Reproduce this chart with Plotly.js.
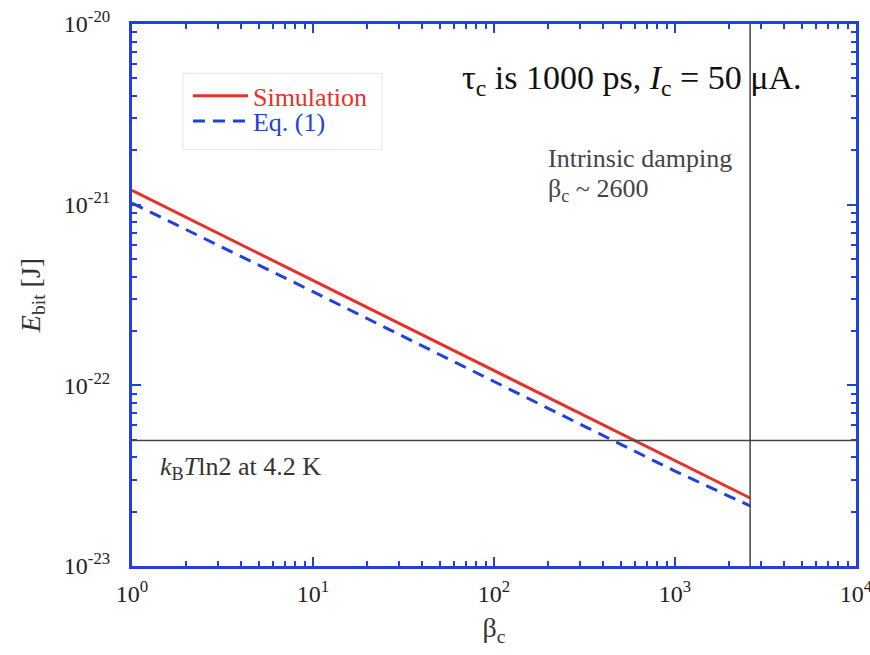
<!DOCTYPE html>
<html>
<head>
<meta charset="utf-8">
<script src="https://cdn.plot.ly/plotly-3.0.1.min.js"></script>
<style>html,body{margin:0;padding:0;background:#fff;}#chart{width:870px;height:655px;}</style>
</head>
<body>
<div id="chart"></div>
<script>
// Data
const betaC = [1, 10, 100, 1000, 2600];
const simulation = [1.2e-21, 3.8e-22, 1.2e-22, 3.8e-23, 2.38e-23];
const eq1 = [1.02e-21, 3.3e-22, 1.05e-22, 3.35e-23, 2.15e-23];
const kBTln2 = 4.95e-23;
const intrinsicBeta = 2600;
const xTickVals = [1, 10, 100, 1000, 10000];
const xTickText = ['10<sup>0</sup>', '10<sup>1</sup>', '10<sup>2</sup>', '10<sup>3</sup>', '10<sup>4</sup>'];
const yTickVals = [1e-23, 1e-22, 1e-21, 1e-20];
const yTickText = ['10<sup>-23</sup>', '10<sup>-22</sup>', '10<sup>-21</sup>', '10<sup>-20</sup>'];

const AX = '#2040e0';
const FONT = '"Liberation Serif", "Times New Roman", serif';

const traces = [
  {x: betaC, y: simulation, type: 'scatter', mode: 'lines', legend: 'legend',
   name: '<span style="color:#e8302a">Simulation</span>',
   line: {color: '#e8302a', width: 3}},
  {x: betaC, y: eq1, type: 'scatter', mode: 'lines', legend: 'legend2',
   name: '<span style="color:#2040e0">Eq. (1)</span>',
   line: {color: '#2040e0', width: 3, dash: '12px,8px'}}
];

const legendBase = {xanchor: 'left', yanchor: 'top', bgcolor: 'rgba(0,0,0,0)', borderwidth: 0,
                    font: {family: FONT, size: 26}, itemwidth: 55};

const layout = {
  width: 870, height: 655,
  margin: {l: 132, r: 14, t: 24, b: 89},
  paper_bgcolor: '#fff', plot_bgcolor: '#fff',
  font: {family: FONT, color: '#222', size: 22},
  showlegend: true,
  legend: Object.assign({}, legendBase, {x: 0.0773, y: 0.911}),
  legend2: Object.assign({}, legendBase, {x: 0.0773, y: 0.864}),
  xaxis: {type: 'log', range: [0, 4], showgrid: false, zeroline: false,
          showline: true, linecolor: AX, linewidth: 3, mirror: 'allticks',
          ticks: 'inside', ticklen: 9, tickwidth: 2, tickcolor: AX,
          tickvals: xTickVals, ticktext: xTickText, ticklabelstandoff: 4,
          ticklabeloverflow: 'allow',
          tickfont: {family: FONT, size: 24, color: '#222'},
          minor: {ticks: 'inside', ticklen: 5, tickwidth: 2, tickcolor: AX, dtick: 'D1', showgrid: false},
          title: {text: 'β<sub>c</sub>', font: {family: FONT, size: 28, color: '#333'}, standoff: 12}},
  yaxis: {type: 'log', range: [-23, -20], showgrid: false, zeroline: false,
          showline: true, linecolor: AX, linewidth: 3, mirror: 'allticks',
          ticks: 'inside', ticklen: 9, tickwidth: 2, tickcolor: AX,
          tickvals: yTickVals, ticktext: yTickText, ticklabelstandoff: 14,
          ticklabeloverflow: 'allow',
          tickfont: {family: FONT, size: 24, color: '#222'},
          minor: {ticks: 'inside', ticklen: 5, tickwidth: 2, tickcolor: AX, dtick: 'D1', showgrid: false},
          title: {text: '<i>E</i><sub>bit</sub> [J]', font: {family: FONT, size: 28, color: '#333'}, standoff: 16}},
  shapes: [
    {type: 'rect', xref: 'paper', yref: 'paper', x0: 0.0704, x1: 0.3453, y0: 0.768, y1: 0.909,
     line: {color: '#e4e4e4', width: 1}, fillcolor: '#fff', layer: 'below'},
    {type: 'line', xref: 'paper', yref: 'y', x0: 0, x1: 1, y0: kBTln2, y1: kBTln2,
     line: {color: '#444', width: 1.5}},
    {type: 'line', xref: 'x', yref: 'paper', x0: intrinsicBeta, x1: intrinsicBeta, y0: 0, y1: 1,
     line: {color: '#444', width: 1.5}}
  ],
  annotations: [
    {xref: 'paper', yref: 'paper', x: 0.69, y: 0.897, xanchor: 'center', yanchor: 'middle',
     text: 'τ<sub>c</sub> is 1000 ps, <i>I</i><sub>c</sub> = 50 μA.', showarrow: false,
     font: {family: FONT, size: 34, color: '#111'}},
    {xref: 'paper', yref: 'paper', x: 0.572, y: 0.752, xanchor: 'left', yanchor: 'middle', align: 'left',
     text: 'Intrinsic damping', showarrow: false,
     font: {family: FONT, size: 26, color: '#444'}},
    {xref: 'paper', yref: 'paper', x: 0.572, y: 0.694, xanchor: 'left', yanchor: 'middle', align: 'left',
     text: 'β<sub>c</sub> ~ 2600', showarrow: false,
     font: {family: FONT, size: 26, color: '#444'}},
    {xref: 'paper', yref: 'paper', x: 0.036, y: 0.181, xanchor: 'left', yanchor: 'middle',
     text: '<i>k</i><sub>B</sub><i>T</i>ln2 at 4.2 K', showarrow: false,
     font: {family: FONT, size: 26, color: '#333'}}
  ]
};

Plotly.newPlot('chart', traces, layout, {displayModeBar: false, staticPlot: true});
</script>
</body>
</html>
